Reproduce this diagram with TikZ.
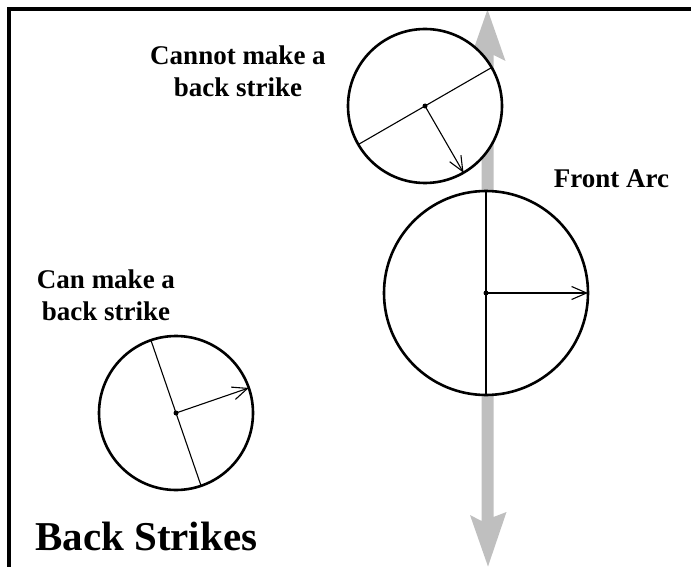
\documentclass[tikz,border=0pt]{standalone}
\usepackage{fontspec}
\setmainfont{Liberation Serif}
\usetikzlibrary{arrows.meta}
\definecolor{arrowgray}{RGB}{191,191,191}
\begin{document}
\begin{tikzpicture}[x=1pt,y=-1pt,
  disc/.style={circle,draw,fill=white,line width=2.6pt,inner sep=0pt,outer sep=0pt,minimum size=#1},
  radius line/.style={line width=1.1pt},
  facing/.style={line width=1.1pt,-{Straight Barb[length=15pt,width=13pt,line width=1.1pt]}},
  label text/.style={font=\bfseries\fontsize{27}{32}\selectfont,align=center,inner sep=0pt,anchor=base},
  dot/.style={circle,fill,inner sep=0pt,minimum size=5pt}]
\useasboundingbox (0,0) rectangle (691,567);
% gray double arrow
\fill[arrowgray] (487.5,9.5) -- (505.5,61) -- (493.5,55) -- (493.5,517) -- (506.5,512)
  -- (488,566.5) -- (470,515) -- (481.5,521) -- (481.5,55) -- (469.5,61) -- cycle;
% frame
\draw[line width=3.3pt] (9,567) -- (9,9) -- (691,9);
% circles
\node[disc=154pt] (cannot) at (425,106) {};
\node[disc=204pt] (front) at (486,293) {};
\node[disc=154pt] (can) at (176,413) {};
\draw[radius line] (cannot.30) -- (cannot.210);
\draw[facing] (cannot.center) -- (cannot.-60);
\draw[radius line] (front.north) -- (front.south);
\draw[facing] (front.center) -- (front.east);
\draw[radius line] (can.109) -- (can.289);
\draw[facing] (can.center) -- (can.19);
\node[dot] (cannotdot) at (cannot.center) {};
\node[dot] (frontdot) at (front.center) {};
\node[dot] (candot) at (can.center) {};
% labels
\node[label text] (cannotlabel) at (238,97) {Cannot make a\\back strike};
\node[label text] (canlabel) at (106,320) {Can make a\\back strike};
\node[label text] (frontlabel) at (611.5,187) {Front Arc};
\node[font=\bfseries\fontsize{41}{41}\selectfont,inner sep=0pt,anchor=base west] (title) at (35,550) {Back Strikes};
\end{tikzpicture}
\end{document}
